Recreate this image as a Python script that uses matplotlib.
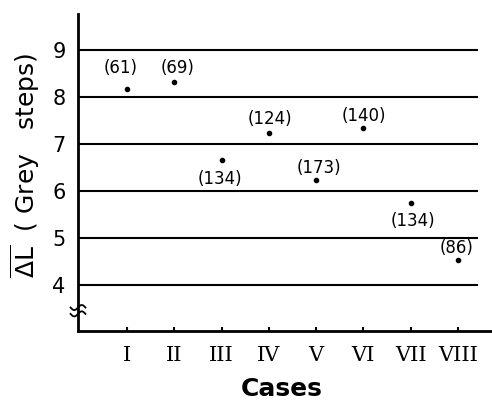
import matplotlib
matplotlib.use("Agg")
import matplotlib.pyplot as plt
import numpy as np

# ---- data ----
cases = ["I", "II", "III", "IV", "V", "VI", "VII", "VIII"]
mean_dL = [8.17, 8.32, 6.66, 7.23, 6.23, 7.34, 5.75, 4.53]
n_counts = ["(61)", "(69)", "(134)", "(124)", "(173)", "(140)", "(134)", "(86)"]
grid_levels = [4, 5, 6, 7, 8, 9]

# ---- styling ----
label_offsets_px = [(-6, 21), (3, 14), (-2, -19), (1, 14), (3, 12), (0, 12), (2, -18), (-1, 12)]

fig = plt.figure(figsize=(4.92, 4.01), dpi=100)
ax = fig.add_axes([78/492, 70/401, (492-78)/492, (331-14)/401])

x = np.arange(1, len(cases) + 1)
ax.set_xlim(-0.036, 8.72)
ax.set_ylim(3.02, 9.77)

ax.hlines(grid_levels, -0.036, 8.42, color="black", linewidth=1.5, zorder=1)
ax.plot(x, mean_dL, "o", color="black", markersize=3, zorder=3)

for xi, yi, lab, off in zip(x, mean_dL, n_counts, label_offsets_px):
    ax.annotate(lab, (xi, yi), xytext=off, textcoords="offset pixels",
                ha="center", va="center", fontsize=12, family="DejaVu Sans")

for s in ["top", "right"]:
    ax.spines[s].set_visible(False)
for s in ["left", "bottom"]:
    ax.spines[s].set_linewidth(2)

ax.set_xticks(x)
ax.set_xticklabels(cases, family="DejaVu Serif", fontsize=15)
ax.tick_params(axis="x", direction="in", length=3, width=1.5, pad=11)
ax.set_yticks(grid_levels)
ax.set_yticklabels([str(v) for v in grid_levels], fontsize=15)
ax.tick_params(axis="y", length=0, pad=9)

# axis break mark
t = np.linspace(-1, 1, 30)
for dy in (0.0, 0.02):
    ax.plot(0.0 + t * 0.018, 0.054 + dy + 0.008 * np.sin(t * np.pi), color="black",
            linewidth=1.3, transform=ax.transAxes, clip_on=False)

fig.text(25/492, 1 - 165/401, r"$\overline{\Delta \mathrm{L}}$  ( Grey   steps)",
         rotation=90, ha="center", va="center", fontsize=18)
fig.text(282/492, 1 - 389/401, "Cases", ha="center", va="center",
         fontsize=18, fontweight="bold")

fig.savefig("out.png", dpi=100)
